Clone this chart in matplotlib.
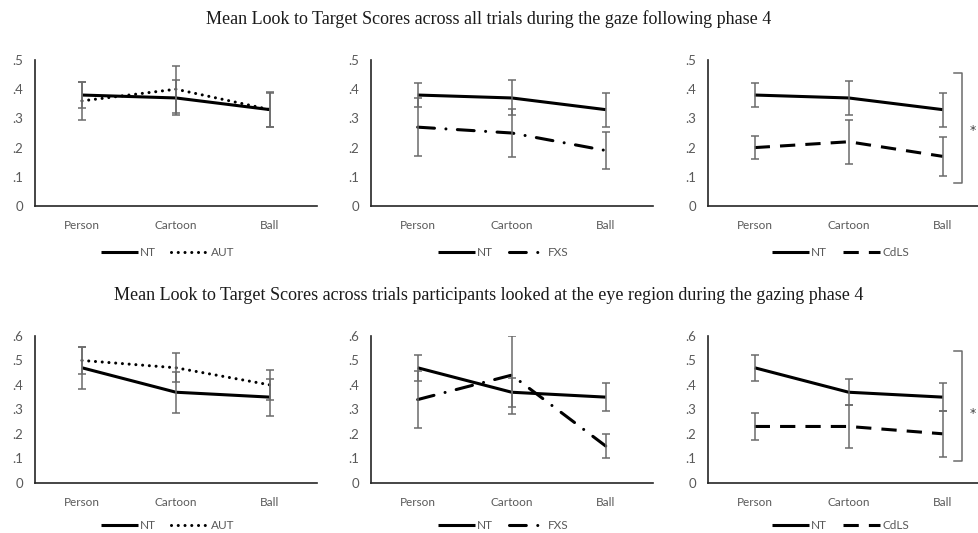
import numpy as np
import matplotlib.pyplot as plt

categories = ["Person", "Cartoon", "Ball"]

# all trials, gaze following phase 4
nt_all_aut = [0.38, 0.37, 0.33]
nt_all_aut_err = [0.043, 0.06, 0.058]
aut_all = [0.36, 0.40, 0.33]
aut_all_err = [0.065, 0.08, 0.06]

nt_all_fxs = [0.38, 0.37, 0.33]
nt_all_fxs_err = [0.042, 0.06, 0.058]
fxs_all = [0.27, 0.25, 0.19]
fxs_all_err = [0.10, 0.083, 0.064]

nt_all_cdls = [0.38, 0.37, 0.33]
nt_all_cdls_err = [0.041, 0.059, 0.058]
cdls_all = [0.20, 0.22, 0.17]
cdls_all_err = [0.04, 0.075, 0.068]

# trials where the eye region was looked at
nt_eye_aut = [0.47, 0.37, 0.35]
nt_eye_aut_err = [0.086, 0.084, 0.076]
aut_eye = [0.50, 0.47, 0.40]
aut_eye_err = [0.055, 0.06, 0.06]

nt_eye_fxs = [0.47, 0.37, 0.35]
nt_eye_fxs_err = [0.054, 0.06, 0.058]
fxs_eye = [0.34, 0.44, 0.15]
fxs_eye_err = [0.118, 0.16, 0.05]

nt_eye_cdls = [0.47, 0.37, 0.35]
nt_eye_cdls_err = [0.053, 0.053, 0.058]
cdls_eye = [0.23, 0.23, 0.20]
cdls_eye_err = [0.057, 0.088, 0.095]

top_ticks = [0, 0.1, 0.2, 0.3, 0.4, 0.5]
bottom_ticks = [0, 0.1, 0.2, 0.3, 0.4, 0.5, 0.6]
tick_labels = ["0", ".1", ".2", ".3", ".4", ".5", ".6"]

# significance brackets (low, high, star height)
bracket_all = [0.079, 0.454, 0.26]
bracket_eye = [0.09, 0.539, 0.284]

title_all = "Mean Look to Target Scores across all trials during the gaze following phase 4"
title_eye = ("Mean Look to Target Scores across trials participants looked at "
             "the eye region during the gazing phase 4")

plt.rcParams['font.family'] = ['Lato', 'DejaVu Sans']

ERR_COLOR = "#6b6b6b"
TEXT_COLOR = "#595959"
LW = 2.2

styles = {
    "NT": dict(linestyle="-", solid_capstyle="butt"),
    "AUT": dict(linestyle=(0, (0.01, 2.2)), dash_capstyle="round"),
    "FXS": dict(linestyle=(0, (5.5, 3.75, 0.01, 3.75)), dash_capstyle="round"),
    "CdLS": dict(linestyle=(0, (5, 3.3)), dash_capstyle="butt"),
}


def draw_panel(ax, nt, nt_err, other, other_err, name, ticks, legend_y, bracket=None):
    x = np.arange(len(categories))
    ax.plot(x, nt, color="black", lw=LW, label="NT", zorder=2, **styles["NT"])
    ax.plot(x, other, color="black", lw=LW, label=name, zorder=2, **styles[name])
    # error bars go on top of the lines
    for vals, errs in [(nt, nt_err), (other, other_err)]:
        ax.errorbar(x, vals, yerr=errs, fmt="none", ecolor=ERR_COLOR,
                    elinewidth=1.1, capsize=3, capthick=1.1, zorder=3)

    ax.set_xlim(-0.5, 2.5)
    ax.set_ylim(0, ticks[-1])
    ax.set_yticks(ticks)
    ax.set_yticklabels(tick_labels[:len(ticks)])
    ax.set_xticks(x)
    ax.set_xticklabels(categories)
    ax.tick_params(length=0, labelsize=8.5, colors=TEXT_COLOR)
    ax.tick_params(axis="y", pad=8.5, labelsize=9.5)
    ax.tick_params(axis="x", pad=10)
    for side in ["top", "right"]:
        ax.spines[side].set_visible(False)
    for side in ["left", "bottom"]:
        ax.spines[side].set_color("#262626")
        ax.spines[side].set_linewidth(1.2)

    ax.legend(loc="center", bbox_to_anchor=(0.47, legend_y), ncol=2, frameon=False,
              handlelength=3.15, handletextpad=0.2, columnspacing=1.3,
              fontsize=8.5, labelcolor=TEXT_COLOR)

    if bracket is not None:
        lo, hi, star = bracket
        bx = 2.21
        ax.plot([bx - 0.095, bx, bx, bx - 0.095], [hi, hi, lo, lo],
                color=ERR_COLOR, lw=1.1, clip_on=False)
        ax.text(bx + 0.11, star, "*", ha="center", va="center",
                fontsize=9, family="DejaVu Sans", color="#404040", clip_on=False)


fig = plt.figure(figsize=(9.79, 5.33), dpi=100)

lefts = [35 / 979, 370.7 / 979, 707.7 / 979]
width = 282 / 979
top_row = [1 - 206 / 533, 146 / 533]
bottom_row = [1 - 482.7 / 533, 146.7 / 533]

axes_top = [fig.add_axes([l, top_row[0], width, top_row[1]]) for l in lefts]
axes_bottom = [fig.add_axes([l, bottom_row[0], width, bottom_row[1]]) for l in lefts]

draw_panel(axes_top[0], nt_all_aut, nt_all_aut_err, aut_all, aut_all_err, "AUT",
           top_ticks, -0.32)
draw_panel(axes_top[1], nt_all_fxs, nt_all_fxs_err, fxs_all, fxs_all_err, "FXS",
           top_ticks, -0.32)
draw_panel(axes_top[2], nt_all_cdls, nt_all_cdls_err, cdls_all, cdls_all_err, "CdLS",
           top_ticks, -0.32, bracket_all)

draw_panel(axes_bottom[0], nt_eye_aut, nt_eye_aut_err, aut_eye, aut_eye_err, "AUT",
           bottom_ticks, -0.295)
draw_panel(axes_bottom[1], nt_eye_fxs, nt_eye_fxs_err, fxs_eye, fxs_eye_err, "FXS",
           bottom_ticks, -0.295)
draw_panel(axes_bottom[2], nt_eye_cdls, nt_eye_cdls_err, cdls_eye, cdls_eye_err, "CdLS",
           bottom_ticks, -0.295, bracket_eye)

serif = ["Liberation Serif", "DejaVu Serif"]
fig.text(489 / 979, 1 - 19 / 533, title_all, ha="center", va="center",
         fontsize=13, family=serif, color="#1a1a1a")
fig.text(489 / 979, 1 - 296 / 533, title_eye, ha="center", va="center",
         fontsize=13, family=serif, color="#1a1a1a")

fig.savefig("out.png", dpi=100, facecolor="white")
